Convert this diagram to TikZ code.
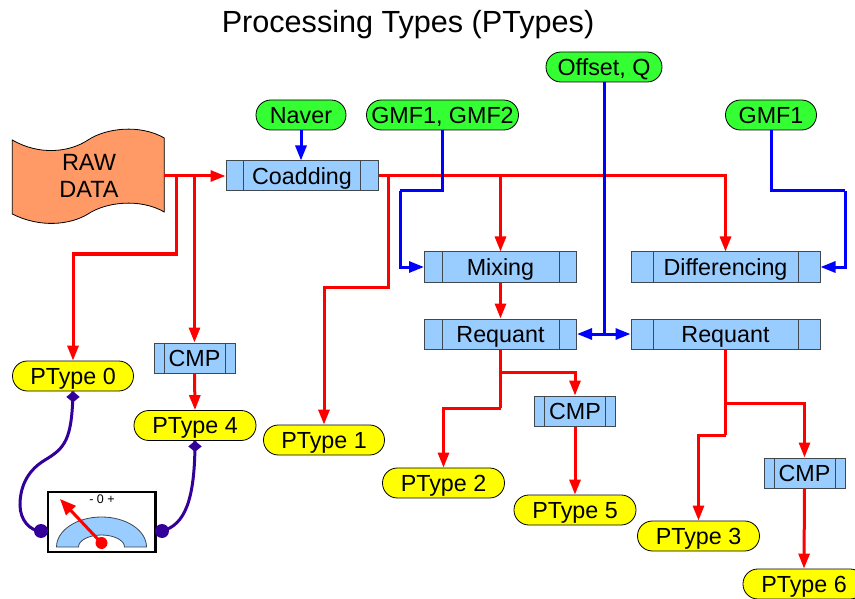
\documentclass[tikz,border=0pt]{standalone}
\usepackage{fontspec}
\setmainfont{Liberation Sans}
\usetikzlibrary{arrows.meta}
\definecolor{boxblue}{HTML}{99CCFF}
\definecolor{boxline}{HTML}{404850}
\definecolor{pgreen}{HTML}{33FF33}
\definecolor{pyellow}{HTML}{FFFF00}
\definecolor{rawfill}{HTML}{FF9966}
\definecolor{indig}{HTML}{330099}
\newcommand\dgfont{\fontsize{23.3}{27}\selectfont}
\begin{document}
\begin{tikzpicture}[x=1pt,y=-1pt,
  procbox/.style={draw=boxline, fill=boxblue, line width=1pt, minimum height=30pt,
    inner sep=0pt, font=\dgfont, text height=16.5pt, text depth=0pt,
    path picture={\draw[boxline, line width=1pt]
      ([xshift=#1]path picture bounding box.south west) -- ([xshift=#1]path picture bounding box.north west)
      ([xshift=-#1]path picture bounding box.south east) -- ([xshift=-#1]path picture bounding box.north east);}},
  pill/.style={draw=black, line width=0.8pt, rounded corners=14.9pt, minimum height=30pt,
    inner sep=0pt, font=\dgfont, text height=16.5pt, text depth=0pt},
  ptype/.style={pill, fill=pyellow},
  param/.style={pill, fill=pgreen},
  redl/.style={draw=red, line width=3pt},
  bluel/.style={draw=blue, line width=3pt},
  arr/.style={-{Triangle[length=15pt,width=11pt]}},
  gaugel/.style={draw=indig, line width=3pt},
  knob/.style={circle, fill=indig, minimum size=14pt, inner sep=0pt},
]
\useasboundingbox (0,0) rectangle (855,599);

% title
\node[font=\fontsize{30.6}{36}\selectfont, anchor=base, inner sep=0pt] (title) at (408,33) {Processing Types (PTypes)};

% raw data
\draw[fill=rawfill, draw=black, line width=0.8pt]
  (12.3,140) .. controls (40,156) and (70,152) .. (88,140)
  .. controls (106,128) and (140,124) .. (164.3,138) -- (164.3,212)
  .. controls (140,198) and (106,202) .. (88,214)
  .. controls (70,225) and (40,228) .. (12.3,214) -- cycle;
\node[font=\fontsize{23.5}{26.7}\selectfont, align=center, inner sep=0pt] (raw) at (89,176) {RAW\\DATA};
\coordinate (rawout) at (164.3,176);

% parameter nodes
\node[param, minimum width=90] (naver) at (301,115) {Naver};
\node[param, minimum width=152] (gmf12) at (442.5,115) {GMF1, GMF2};
\node[param, minimum width=116] (offset) at (604,67) {Offset, Q};
\node[param, minimum width=91] (gmf1) at (771,115) {GMF1};

% process boxes
\node[procbox=17.5, minimum width=152] (coadd) at (302,176) {Coadding};
\node[procbox=17.5, minimum width=152] (mixing) at (500.5,267) {Mixing};
\node[procbox=22, minimum width=189] (diff) at (725.5,267) {Differencing};
\node[procbox=17.5, minimum width=152] (req1) at (500.5,334) {Requant};
\node[procbox=22, minimum width=189] (req2) at (725.5,334) {Requant};
\node[procbox=10, minimum width=81] (cmp1) at (194.5,358) {CMP};
\node[procbox=10, minimum width=81] (cmp2) at (575,411) {CMP};
\node[procbox=10, minimum width=81] (cmp3) at (804.5,473) {CMP};

% ptypes
\node[ptype, minimum width=121] (p0) at (73,376) {PType 0};
\node[ptype, minimum width=122] (p4) at (195,425.5) {PType 4};
\node[ptype, minimum width=121] (p1) at (324,440) {PType 1};
\node[ptype, minimum width=122] (p2) at (443.5,483) {PType 2};
\node[ptype, minimum width=122] (p5) at (575,510) {PType 5};
\node[ptype, minimum width=122] (p3) at (698.5,536) {PType 3};
\node[ptype, minimum width=122] (p6) at (804,584) {PType 6};

% junction coordinates
\coordinate (ja) at (176,176);
\coordinate (jb) at (194.5,176);
\coordinate (jc) at (388,176);
\coordinate (jd) at (500.5,176);
\coordinate (je) at (500.5,408);
\coordinate (jf) at (500.5,372);
\coordinate (jg) at (725.5,435);
\coordinate (jh) at (725.5,403);
\coordinate (b1) at (400,191);
\coordinate (b2) at (845,191);
\coordinate (b3) at (604,334);

% red connectors
\draw[redl, arr] (rawout) -- (coadd.west);
\draw[redl, arr] (ja) -- (176,254) -| (p0.north);
\draw[redl, arr] (jb) -- (cmp1.north);
\draw[redl, arr] (cmp1.south) -- (p4.north);
\draw[redl, arr] (coadd.east) -| (diff.north);
\draw[redl, arr] (jc) -- (388,287) -| (p1.north);
\draw[redl, arr] (jd) -- (mixing.north);
\draw[redl, arr] (mixing.south) -- (req1.north);
\draw[redl] (req1.south) -- (je);
\draw[redl, arr] (je) -| (p2.north);
\draw[redl, arr] (jf) -| (cmp2.north);
\draw[redl, arr] (cmp2.south) -- (p5.north);
\draw[redl] (req2.south) -- (jg);
\draw[redl, arr] (jg) -| (p3.north);
\draw[redl, arr] (jh) -| (cmp3.north);
\draw[redl, arr] (cmp3.south) -- (p6.north);

% blue connectors
\draw[bluel, arr] (naver.south) -- (naver.south |- coadd.north);
\draw[bluel] (gmf12.south) |- (b1);
\draw[bluel, arr] (b1) |- (mixing.west);
\draw[bluel] (gmf1.south) |- (b2);
\draw[bluel, arr] (b2) |- (diff.east);
\draw[bluel] (offset.south) -- (b3);
\draw[bluel, {Triangle[length=15pt,width=11pt]}-{Triangle[length=15pt,width=11pt]}] (req1.east) -- (req2.west);

% gauge
\draw[black, line width=2.5pt, fill=white] (48,492) rectangle (155.5,552);
\node[font=\fontsize{12.5}{14}\selectfont, inner sep=0pt] (scale) at (102,499) {- 0 +};
\draw[fill=boxblue, draw=boxline, line width=0.8pt]
  (56.5,547) arc[start angle=180, end angle=0, x radius=45, y radius=-30]
  -- (124.5,547) arc[start angle=0, end angle=180, x radius=23, y radius=-12] -- cycle;
\node[circle, fill=red, minimum size=12pt, inner sep=0pt] (pivot) at (101.5,543) {};
\coordinate (needletip) at (60,499);
\draw[red, line width=3pt, -{Triangle[length=16pt,width=13pt]}] (pivot.center) -- (needletip);
\node[knob] (c1) at (41,531) {};
\node[knob] (c2) at (162,531) {};
\draw[gaugel] (p0.south)
  .. controls (72,440) and (65,448) .. (45,460)
  .. controls (25,472) and (20,490) .. (20,505)
  .. controls (20,520) and (30,531) .. (c1.center);
\draw[gaugel] (p4.south)
  .. controls (195,500) and (185,525) .. (c2.center);
\fill[indig] (p0.south) -- ++(6.7,5.5) -- ++(-6.7,5.5) -- ++(-6.7,-5.5) -- cycle;
\fill[indig] (p4.south) -- ++(6.7,5.5) -- ++(-6.7,5.5) -- ++(-6.7,-5.5) -- cycle;
\end{tikzpicture}
\end{document}
